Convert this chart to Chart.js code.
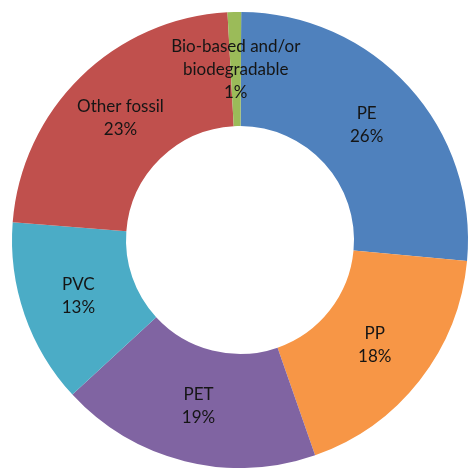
<!DOCTYPE html>
<html>
<head>
<meta charset="utf-8">
<script src="https://cdn.jsdelivr.net/npm/chart.js@4/dist/chart.umd.min.js"></script>
<style>
  html, body { margin: 0; padding: 0; background: #ffffff; overflow: hidden; width: 468px; height: 468px; }
  #wrap { position: absolute; left: 0; top: 0; width: 480px; height: 480px; }
</style>
</head>
<body>
<div id="wrap"><canvas id="c" width="480" height="480"></canvas></div>
<script>
const categories = ["PE", "PP", "PET", "PVC", "Other fossil", "Bio-based and/or\nbiodegradable"];
const shares = [26.4, 18.2, 18.5, 13.1, 22.9, 0.96];
const pctLabels = ["26%", "18%", "19%", "13%", "23%", "1%"];
const colors = ["#4F81BD", "#F79646", "#8064A2", "#4BACC6", "#C0504D", "#9BBB59"];

const labelPlugin = {
  id: 'sliceLabels',
  afterDatasetsDraw(chart) {
    const ctx = chart.ctx;
    const meta = chart.getDatasetMeta(0);
    ctx.save();
    ctx.font = '17px Lato, "Noto Sans", sans-serif';
    ctx.fillStyle = '#151515';
    ctx.textAlign = 'center';
    ctx.textBaseline = 'middle';
    const lh = 23;
    meta.data.forEach((arc, i) => {
      const pos = arc.tooltipPosition();
      const lines = categories[i].split('\n').concat([pctLabels[i]]);
      const y0 = pos.y - (lines.length - 1) * lh / 2;
      lines.forEach((t, k) => ctx.fillText(t, pos.x, y0 + k * lh));
    });
    ctx.restore();
  }
};

new Chart(document.getElementById('c'), {
  type: 'doughnut',
  data: {
    labels: categories,
    datasets: [{
      data: shares,
      backgroundColor: colors,
      borderWidth: 0,
      hoverOffset: 0
    }]
  },
  options: {
    responsive: false,
    animation: false,
    cutout: '50%',
    rotation: 0.3,
    layout: { padding: 12 },
    plugins: { legend: { display: false }, tooltip: { enabled: false } }
  },
  plugins: [labelPlugin]
});
</script>
</body>
</html>
